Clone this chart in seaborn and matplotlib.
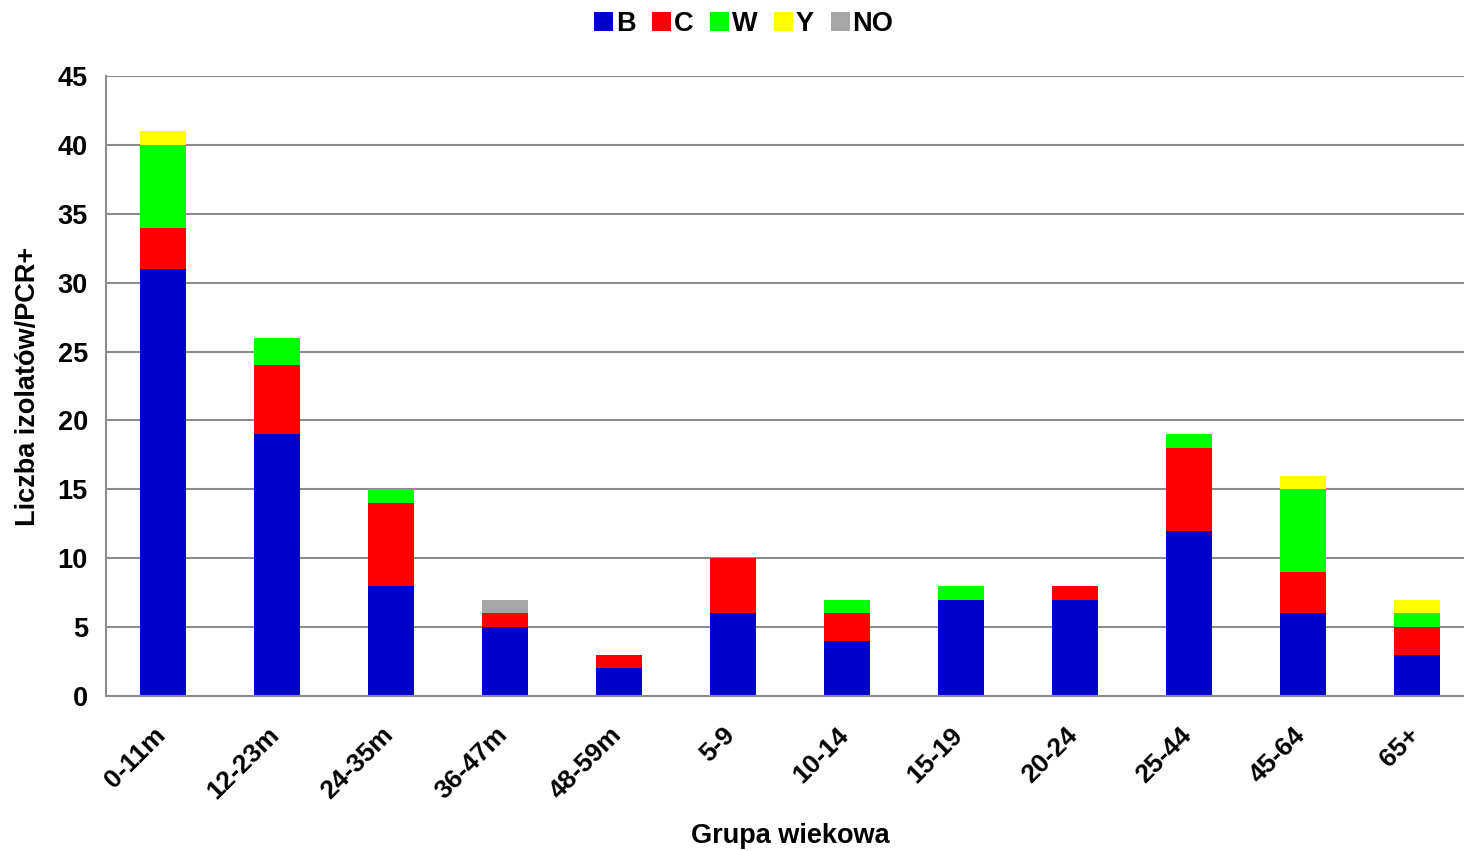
import matplotlib
matplotlib.use("Agg")
import matplotlib.pyplot as plt
import matplotlib.transforms as mtransforms
import numpy as np
import pandas as pd
import seaborn as sns
from matplotlib.patches import Patch

# ==========================================
# DATA
# ==========================================
groups = ["0-11m", "12-23m", "24-35m", "36-47m", "48-59m", "5-9",
          "10-14", "15-19", "20-24", "25-44", "45-64", "65+"]
serogroups = ["B", "C", "W", "Y", "NO"]
b_vals = [31, 19, 8, 5, 2, 6, 4, 7, 7, 12, 6, 3]
c_vals = [3, 5, 6, 1, 1, 4, 2, 0, 1, 6, 3, 2]
w_vals = [6, 2, 1, 0, 0, 0, 1, 1, 0, 1, 6, 1]
y_vals = [1, 0, 0, 0, 0, 0, 0, 0, 0, 0, 1, 1]
no_vals = [0, 0, 0, 1, 0, 0, 0, 0, 0, 0, 0, 0]

colors = {"B": "#0000CC", "C": "#FF0000", "W": "#00FF00",
          "Y": "#FFFF00", "NO": "#A6A6A6"}

# ==========================================
# FIGURE
# ==========================================
sns.set_theme(style="white")
plt.rcParams["font.family"] = ["Liberation Sans", "DejaVu Sans"]
plt.rcParams["font.weight"] = "bold"
plt.rcParams["text.color"] = "black"
plt.rcParams["xtick.labelcolor"] = "black"
plt.rcParams["ytick.labelcolor"] = "black"
plt.rcParams["axes.labelcolor"] = "black"

df = pd.DataFrame({"Grupa": groups, "B": b_vals, "C": c_vals,
                   "W": w_vals, "Y": y_vals, "NO": no_vals})
# cumulative heights, drawn from the tallest down so each layer shows
cum = df[serogroups].cumsum(axis=1)

fig = plt.figure(figsize=(14.64, 8.51), dpi=100)
ax = fig.add_axes([0.0724, 0.1821, 0.9344, 0.7286])

FS = 19.5
grid_col = "#8C8C8C"
ax.set_axisbelow(True)
for yv in range(5, 50, 5):
    ax.axhline(yv, color=grid_col, lw=1.5, zorder=0)

for sg in reversed(serogroups):
    sns.barplot(x=df["Grupa"], y=cum[sg], color=colors[sg], width=0.41,
                saturation=1, linewidth=0, ax=ax, zorder=2)

ax.set_ylim(0, 45)
ax.set_xlim(-0.5, 11.5)
ax.set_yticks(range(0, 50, 5))
ax.set_yticklabels([str(v) for v in range(0, 50, 5)], fontsize=FS, fontweight="bold")
ax.set_xticks(range(len(groups)))
ax.set_xticklabels(groups, rotation=45, ha="right", rotation_mode="anchor",
                   fontsize=19, fontweight="bold")
ax.set_xticks(np.arange(0.5, len(groups), 1.0), minor=True)
ax.tick_params(axis="x", which="major", length=0, pad=12)
ax.tick_params(axis="x", which="minor", length=7, width=1.5, color=grid_col, direction="out")
ax.tick_params(axis="y", length=7, width=1.5, color=grid_col, direction="out", pad=6)

# nudge rotated labels left/down (after tick_params, which resets transforms)
shift = mtransforms.ScaledTranslation(-10 / 100, -10 / 100, fig.dpi_scale_trans)
for lbl in ax.get_xticklabels():
    lbl.set_transform(lbl.get_transform() + shift)

for s in ["top", "right"]:
    ax.spines[s].set_visible(False)
for s in ["left", "bottom"]:
    ax.spines[s].set_color(grid_col)
    ax.spines[s].set_linewidth(1.5)
ax.spines["bottom"].set_zorder(3)

ax.set_xlabel("Grupa wiekowa", fontsize=FS, fontweight="bold")
ax.xaxis.set_label_coords(0.5, -0.226)
ax.xaxis.label.set_va("center")
ax.set_ylabel("Liczba izolatów/PCR+", fontsize=FS, fontweight="bold", labelpad=12)

handles = [Patch(facecolor=colors[sg], edgecolor="none", label=sg) for sg in serogroups]
fig.legend(handles=handles, loc="upper center", bbox_to_anchor=(0.508, 1.016),
           ncol=5, frameon=False, handlelength=0.7, handleheight=0.7,
           handletextpad=0.1, columnspacing=0.62, prop={"weight": "bold", "size": FS})

fig.savefig("out.png", dpi=100)
plt.close(fig)
